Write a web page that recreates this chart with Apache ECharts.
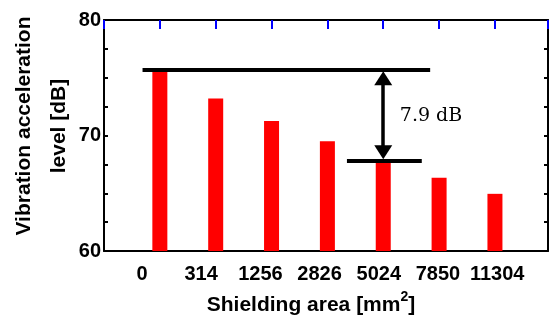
<!DOCTYPE html>
<html>
<head>
<meta charset="utf-8">
<script src="https://cdn.jsdelivr.net/npm/echarts@6/dist/echarts.min.js"></script>
<style>
  html, body { margin: 0; padding: 0; background: #fff; }
  #chart { width: 553px; height: 320px; }
</style>
</head>
<body>
<div id="chart"></div>
<script>
// shielding area categories and measured levels
const areaLabels = ['0', '314', '1256', '2826', '5024', '7850', '11304'];
const levels = [75.7, 73.2, 71.25, 69.5, 67.8, 66.35, 64.95];
const yLabelValues = [60, 70, 80];
const refIndex = 0;   // no shielding
const cmpIndex = 4;   // 5024 mm2

const font = "'Liberation Sans', Arial, sans-serif";
const diff = (levels[refIndex] - levels[cmpIndex]).toFixed(1);

const labelStart = 0.68;
const labelStep = 1.06;

const chart = echarts.init(document.getElementById('chart'));

const option = {
    animation: false,
    backgroundColor: '#fff',
    grid: { left: 104, right: 5, top: 20, bottom: 69 },
    xAxis: [
        {
            type: 'value',
            position: 'bottom',
            min: 0,
            max: 7.95,
            axisLine: { show: true, onZero: false, lineStyle: { color: '#000', width: 2 } },
            axisTick: { show: false },
            axisLabel: {
                customValues: areaLabels.map((_, i) => labelStart + labelStep * i),
                formatter: (v) => areaLabels[Math.round((v - labelStart) / labelStep)],
                color: '#000',
                fontFamily: font,
                fontWeight: 'bold',
                fontSize: 20,
                margin: 13
            },
            splitLine: { show: false }
        },
        {
            type: 'value',
            position: 'top',
            min: 0,
            max: 7.95,
            interval: 1,
            axisLine: { show: true, onZero: false, lineStyle: { color: '#000', width: 2 } },
            axisTick: { show: true, inside: true, length: 9, lineStyle: { color: '#00f', width: 2 } },
            axisLabel: { show: false },
            splitLine: { show: false }
        }
    ],
    yAxis: [
        {
            type: 'value',
            position: 'left',
            min: 60,
            max: 80,
            interval: 2.5,
            axisLine: { show: true, onZero: false, lineStyle: { color: '#000', width: 2 } },
            axisTick: { show: true, inside: true, length: 4, lineStyle: { color: '#000', width: 2 } },
            axisLabel: {
                formatter: (v) => (yLabelValues.indexOf(v) >= 0 ? String(v) : ''),
                color: '#000',
                fontFamily: font,
                fontWeight: 'bold',
                fontSize: 20,
                margin: 3
            },
            splitLine: { show: false }
        },
        {
            type: 'value',
            position: 'right',
            min: 60,
            max: 80,
            interval: 2.5,
            axisLine: { show: true, onZero: false, lineStyle: { color: '#000', width: 2 } },
            axisTick: { show: true, inside: true, length: 4, lineStyle: { color: '#000', width: 2 } },
            axisLabel: { show: false },
            splitLine: { show: false }
        }
    ],
    series: [
        {
            type: 'bar',
            xAxisIndex: 0,
            yAxisIndex: 0,
            barWidth: 15,
            itemStyle: { color: '#ff0000' },
            data: levels.map((v, i) => [i + 1, v]),
            markLine: {
                silent: true,
                animation: false,
                symbol: 'none',
                label: { show: false },
                lineStyle: { color: '#000', width: 4, type: 'solid' },
                data: [
                    [{ coord: [0.69, levels[refIndex]] }, { coord: [5.84, levels[refIndex]] }],
                    [{ coord: [4.35, levels[cmpIndex]] }, { coord: [5.69, levels[cmpIndex]] }],
                    [
                        {
                            coord: [cmpIndex + 1, levels[refIndex] - 0.75],
                            symbol: 'triangle',
                            symbolSize: [18, 14],
                            lineStyle: { width: 3.5 }
                        },
                        {
                            coord: [cmpIndex + 1, levels[cmpIndex] + 0.75],
                            symbol: 'triangle',
                            symbolSize: [18, 14]
                        }
                    ]
                ]
            }
        }
    ],
    graphic: [
        {
            type: 'text',
            x: 42,
            y: 126,
            rotation: Math.PI / 2,
            style: {
                text: 'Vibration acceleration\nlevel [dB]',
                font: 'bold 21px ' + font,
                fill: '#000',
                align: 'center',
                verticalAlign: 'middle',
                lineHeight: 35
            }
        },
        {
            type: 'text',
            x: 311,
            y: 305,
            style: {
                text: '{n|Shielding area [mm}{s|2}{n|]}',
                align: 'center',
                verticalAlign: 'middle',
                rich: {
                    n: { font: 'bold 21px ' + font, fill: '#000', lineHeight: 30 },
                    s: { font: 'bold 14px ' + font, fill: '#000', verticalAlign: 'top', lineHeight: 16 }
                }
            }
        },
        {
            type: 'text',
            x: 431,
            y: 116,
            style: {
                text: diff + ' dB',
                font: "19px 'DejaVu Serif', serif",
                fill: '#000',
                align: 'center',
                verticalAlign: 'middle'
            }
        }
    ]
};

chart.setOption(option);
</script>
</body>
</html>
